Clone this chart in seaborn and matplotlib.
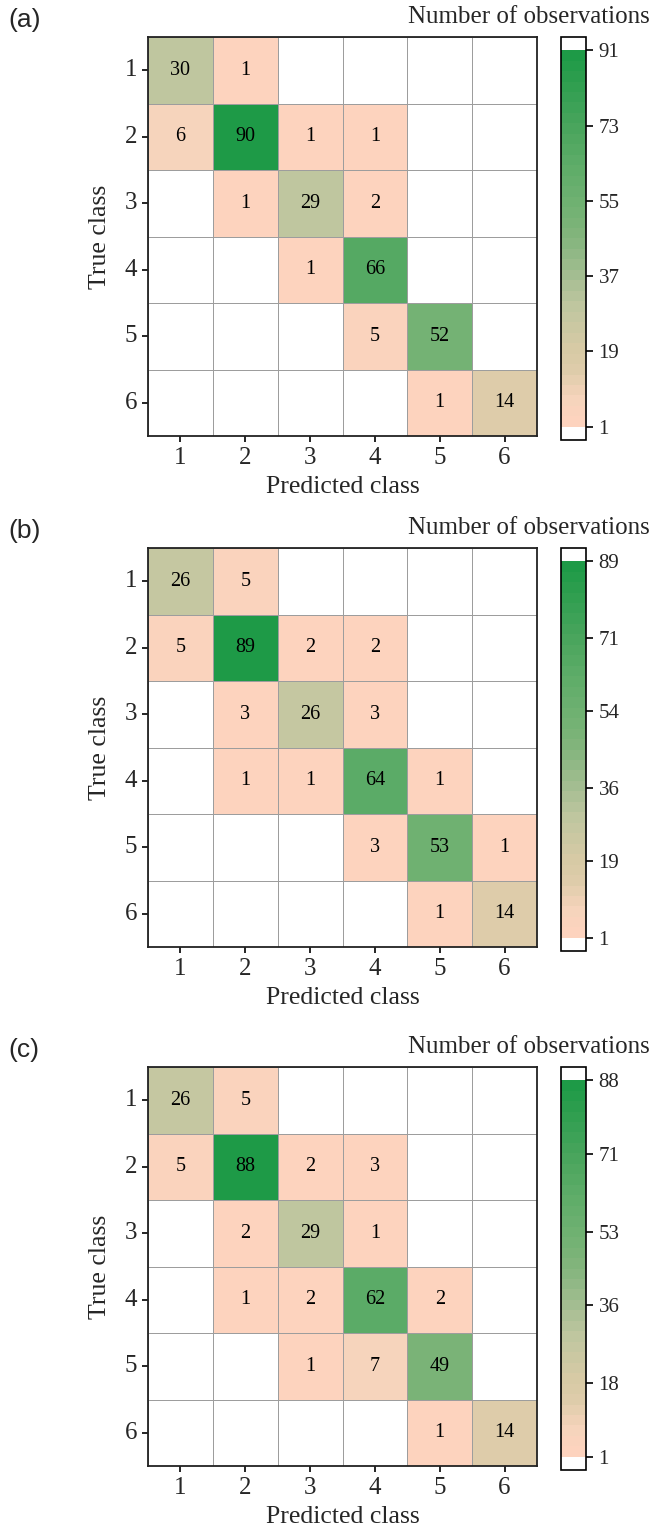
import numpy as np
import matplotlib
matplotlib.use("Agg")
import matplotlib.pyplot as plt
from matplotlib.colors import LinearSegmentedColormap
import seaborn as sns

# ---- data -------------------------------------------------------------
classes = ["1", "2", "3", "4", "5", "6"]
panel_tags = ["(a)", "(b)", "(c)"]

cm_a = [[30, 1, 0, 0, 0, 0],
        [6, 90, 1, 1, 0, 0],
        [0, 1, 29, 2, 0, 0],
        [0, 0, 1, 66, 0, 0],
        [0, 0, 0, 5, 52, 0],
        [0, 0, 0, 0, 1, 14]]

cm_b = [[26, 5, 0, 0, 0, 0],
        [5, 89, 2, 2, 0, 0],
        [0, 3, 26, 3, 0, 0],
        [0, 1, 1, 64, 1, 0],
        [0, 0, 0, 3, 53, 1],
        [0, 0, 0, 0, 1, 14]]

cm_c = [[26, 5, 0, 0, 0, 0],
        [5, 88, 2, 3, 0, 0],
        [0, 2, 29, 1, 0, 0],
        [0, 1, 2, 62, 2, 0],
        [0, 0, 1, 7, 49, 0],
        [0, 0, 0, 0, 1, 14]]

cbar_max = [91, 89, 88]
cbar_ticks_a = [1, 19, 37, 55, 73, 91]
cbar_ticks_b = [1, 19, 36, 54, 71, 89]
cbar_ticks_c = [1, 18, 36, 53, 71, 88]

# ---- style ------------------------------------------------------------
sns.set_theme(style="white")
plt.rcParams["font.family"] = ["Liberation Serif", "DejaVu Serif"]

W, H = 652, 1531
fig = plt.figure(figsize=(W / 100, H / 100), dpi=100)

stops = [(0.00, "#FDD3BE"), (0.06, "#F6D4BC"), (0.15, "#DCCBA8"),
         (0.20, "#D7CAA5"), (0.32, "#BEC69F"), (0.40, "#A3BD91"),
         (0.50, "#84B57D"), (0.57, "#74B274"), (0.72, "#5AAB66"),
         (0.80, "#4AA55D"), (1.00, "#1E9A47")]
cmap = LinearSegmentedColormap.from_list("peach_green", stops, N=36)
cmap.set_under("white")
cmap.set_over("white")


def box(x0, y0, x1, y1):
    """Pixel box (top-left origin) -> figure fraction rect."""
    return [x0 / W, 1 - y1 / H, (x1 - x0) / W, (y1 - y0) / H]


offsets = [0, 511, 1030]
matrices = [cm_a, cm_b, cm_c]
tick_sets = [cbar_ticks_a, cbar_ticks_b, cbar_ticks_c]

for tag, cm, vmax, ticks, off in zip(panel_tags, matrices, cbar_max,
                                     tick_sets, offsets):
    ax = fig.add_axes(box(148, 37 + off, 537, 436 + off))
    cax = fig.add_axes(box(561, 37 + off, 586, 440 + off))

    data = np.array(cm)
    labels = np.where(data > 0, data.astype(str), "")

    sns.heatmap(data, ax=ax, cbar_ax=cax, cmap=cmap, vmin=1, vmax=vmax,
                annot=labels, fmt="",
                annot_kws={"fontsize": 14.5, "color": "black"},
                linewidths=0.6, linecolor="#9d9d9d",
                xticklabels=classes, yticklabels=classes,
                cbar_kws={"ticks": ticks, "extend": "both",
                          "extendrect": True, "extendfrac": 0.035})

    for s in ax.spines.values():
        s.set_visible(True)
        s.set_linewidth(1.3)
        s.set_color("#222222")
    ax.tick_params(left=True, bottom=True, length=4, width=1.2,
                   color="black", direction="out", labelsize=18, pad=4)
    ax.tick_params(axis="y", labelrotation=0)

    ax.set_xlabel("Predicted class", fontsize=18.5)
    ax.xaxis.set_label_coords(0.5, -(487 - 436) / 399)
    ax.xaxis.label.set_va("center")
    ax.set_ylabel("True class", fontsize=18.5)
    ax.yaxis.set_label_coords(-(148 - 100) / 389, 0.5)
    ax.yaxis.label.set_va("center")

    cb = ax.collections[0].colorbar
    cb.outline.set_linewidth(1.2)
    cb.outline.set_edgecolor("black")
    cb.set_ticks(ticks)
    cb.set_ticklabels([str(t) for t in ticks])
    cb.ax.tick_params(right=True, length=5, width=1.2, color="black",
                      labelsize=15, pad=4)

    fig.text(8 / W, 1 - (20 + off) / H, tag, ha="left", va="center",
             fontsize=19, family=["Liberation Sans", "DejaVu Sans"])
    fig.text(650 / W, 1 - (17 + off) / H, "Number of observations",
             ha="right", va="center", fontsize=18)

fig.savefig("out.png", dpi=100, facecolor="white")
